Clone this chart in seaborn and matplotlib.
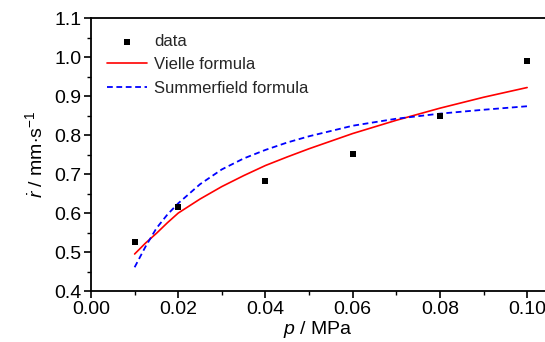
import matplotlib
matplotlib.use("Agg")
import matplotlib.pyplot as plt
import seaborn as sns
import pandas as pd
from matplotlib.ticker import MultipleLocator

sns.set_theme(style="ticks")
plt.rcParams['font.family'] = ['Liberation Sans', 'DejaVu Sans']
plt.rcParams['mathtext.fontset'] = 'custom'
plt.rcParams['mathtext.it'] = 'Liberation Sans:italic'
plt.rcParams['mathtext.rm'] = 'Liberation Sans'

# measured data
p_data = [0.01, 0.02, 0.04, 0.06, 0.08, 0.10]
r_data = [0.526, 0.615, 0.682, 0.751, 0.848, 0.990]

# fitted curves
p_fit = [0.01, 0.0125, 0.015, 0.0175, 0.02, 0.025, 0.03, 0.035, 0.04, 0.045,
         0.05, 0.06, 0.07, 0.08, 0.09, 0.10]
r_vielle = [0.495, 0.523, 0.548, 0.575, 0.600, 0.636, 0.668, 0.696, 0.722, 0.744,
            0.765, 0.804, 0.838, 0.869, 0.897, 0.922]
r_summer = [0.461, 0.514, 0.561, 0.596, 0.625, 0.674, 0.712, 0.740, 0.762, 0.781,
            0.797, 0.824, 0.842, 0.855, 0.865, 0.874]

df_data = pd.DataFrame({"p": p_data, "r": r_data})
df_fit = pd.DataFrame({"p": p_fit, "vielle": r_vielle, "summer": r_summer})

fig = plt.figure(figsize=(5.45, 3.42), dpi=100)
ax = fig.add_axes([0.167, 0.149, 0.833, 0.798])

sns.scatterplot(data=df_data, x="p", y="r", marker="s", color="black", s=22,
                edgecolor="black", linewidth=0, label="data", ax=ax, zorder=3)
sns.lineplot(data=df_fit, x="p", y="vielle", color="red", linewidth=1.2,
             label="Vielle formula", ax=ax)
sns.lineplot(data=df_fit, x="p", y="summer", color="blue", linewidth=1.3,
             linestyle=(0, (3.2, 2)), label="Summerfield formula", ax=ax)

ax.set_xlim(0, 0.1041)
ax.set_ylim(0.4, 1.1)
ax.xaxis.set_minor_locator(MultipleLocator(0.01))
ax.yaxis.set_minor_locator(MultipleLocator(0.05))
ax.set_xticks([0.0, 0.02, 0.04, 0.06, 0.08, 0.10])
ax.set_xticklabels(["0.00", "0.02", "0.04", "0.06", "0.08", "0.10"])
ax.set_yticks([0.4, 0.5, 0.6, 0.7, 0.8, 0.9, 1.0, 1.1])
ax.set_yticklabels(["0.4", "0.5", "0.6", "0.7", "0.8", "0.9", "1.0", "1.1"])

ax.tick_params(which="major", direction="out", length=5, width=1.2, labelsize=14,
               pad=2, color="black", labelcolor="black")
ax.tick_params(which="minor", direction="out", length=3, width=1.0, color="black")

for side in ["left", "bottom", "top"]:
    ax.spines[side].set_linewidth(1.3)
    ax.spines[side].set_color("black")
ax.spines["right"].set_visible(False)

ax.set_xlabel(r"$p$ / MPa", fontsize=14, labelpad=1, color="black")
ax.set_ylabel(r"$\dot{r}$ / mm$\cdot$s$^{-1}$", fontsize=14, labelpad=6, color="black")

ax.legend(loc="upper left", bbox_to_anchor=(0.01, 0.985), frameon=False,
          fontsize=12, handlelength=2.4, handletextpad=0.4, labelspacing=0.5,
          borderpad=0.2)

fig.savefig("out.png", dpi=100)
